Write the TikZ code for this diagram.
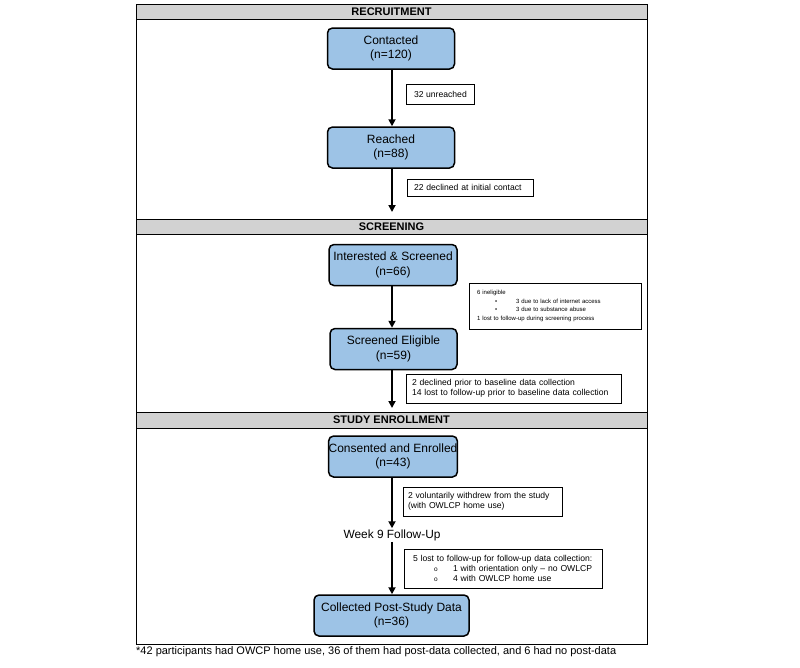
\documentclass[tikz,border=0pt]{standalone}
\usepackage{fontspec}
\setmainfont{Liberation Sans}
\usetikzlibrary{arrows.meta}
\definecolor{boxblue}{RGB}{157,195,230}
\definecolor{bargray}{RGB}{210,210,210}
\begin{document}
\begin{tikzpicture}[x=1pt,y=-1pt,
  stage/.style={draw=black, line width=1.5pt, rounded corners=5pt, fill=boxblue,
    minimum height=41pt, align=center, inner sep=0pt,
    font=\fontsize{12}{14.5}\selectfont},
  note/.style={draw=black, line width=0.7pt, fill=white, align=left, inner xsep=8pt, inner ysep=0pt,
    font=\fontsize{8.6}{10}\selectfont},
  bar/.style={draw=black, line width=0.9pt, fill=bargray},
  bartitle/.style={font=\fontsize{11}{13}\selectfont\bfseries},
  flow/.style={line width=2pt, -{Triangle[length=7pt,width=7pt]}},
  lbl/.style={font=\fontsize{11.9}{15}\selectfont, inner sep=1pt}
]
\useasboundingbox (0,0) rectangle (800,667);
\fill[white] (0,0) rectangle (800,667);
% frame and bars
\draw[line width=0.9pt] (136,4) rectangle (647,644);
\draw[bar] (136,4) rectangle (647,19);
\draw[bar] (136,219) rectangle (647,234);
\draw[bar] (136,412) rectangle (647,428);
\node[bartitle] (h1) at (391.5,11.5) {RECRUITMENT};
\node[bartitle] (h2) at (391.5,226.5) {SCREENING};
\node[bartitle] (h3) at (391.5,420) {STUDY ENROLLMENT};
% stages
\node[stage, minimum width=127pt] (contacted) at (391,48.5) {Contacted\\(n=120)};
\node[stage, minimum width=127pt] (reached) at (391,147.5) {Reached\\(n=88)};
\node[stage, minimum width=128pt] (interested) at (393,265) {Interested \& Screened\\(n=66)};
\node[stage, minimum width=127pt] (eligible) at (393.5,349) {Screened Eligible\\(n=59)};
\node[stage, minimum width=128pt] (consented) at (393,456.5) {Consented and Enrolled\\(n=43)};
\node[lbl] (week9) at (392,535) {Week 9 Follow-Up};
\node[stage, minimum width=155pt] (collected) at (391.5,615.5) {Collected Post-Study Data\\(n=36)};
\coordinate (endA) at (392,212);
\coordinate (endB) at (392,408);
% arrows
\draw[flow] (contacted.south -| 392,0) -- (reached.north -| 392,0);
\draw[flow] (reached.south -| 392,0) -- (endA);
\draw[flow] (interested.south -| 392,0) -- (eligible.north -| 392,0);
\draw[flow] (eligible.south -| 392,0) -- (endB);
\draw[flow] (consented.south -| 392,0) -- (week9.north -| 392,0);
\draw[flow] (week9.south -| 392,0) -- (collected.north -| 392,0);
% notes
\node[note, minimum width=65pt, minimum height=20pt] (n1) at (440.5,94) {32 unreached};
\node[note, minimum width=126pt, minimum height=17pt, text width=112pt, inner xsep=7pt] (n2) at (470,187.5) {22 declined at initial contact};
\node[note, minimum width=172pt, minimum height=46pt, text width=164pt, inner xsep=4pt,
  font=\fontsize{6}{8.8}\selectfont] (n3) at (555,306)
  {\hspace*{4pt}6 ineligible\\
   \hspace*{22pt}\makebox[21pt][l]{\textbullet}3 due to lack of internet access\\
   \hspace*{22pt}\makebox[21pt][l]{\textbullet}3 due to substance abuse\\
   \hspace*{4pt}1 lost to follow-up during screening process};
\node[note, minimum width=215pt, minimum height=29pt, text width=203pt, inner xsep=6pt,
  font=\fontsize{8.6}{10}\selectfont] (n4) at (513.5,388.5)
  {2 declined prior to baseline data collection\\14 lost to follow-up prior to baseline data collection};
\node[note, minimum width=159pt, minimum height=29pt, text width=149pt, inner xsep=5pt,
  font=\fontsize{8.6}{10}\selectfont] (n5) at (482.5,501.5)
  {2 voluntarily withdrew from the study\\(with OWLCP home use)};
\node[note, minimum width=198pt, minimum height=39pt, text width=186pt, inner xsep=6pt,
  font=\fontsize{8.6}{10}\selectfont] (n6) at (503,568.5)
  {\hspace*{3pt}5 lost to follow-up for follow-up data collection:\\
   \hspace*{24pt}\makebox[19pt][l]{\fontsize{6.5}{8}\selectfont o}1 with orientation only -- no OWLCP\\
   \hspace*{24pt}\makebox[19pt][l]{\fontsize{6.5}{8}\selectfont o}4 with OWLCP home use};
% footnote
\node[anchor=west, inner sep=0pt, font=\fontsize{11}{13}\selectfont] (foot) at (136,652)
  {*42 participants had OWCP home use, 36 of them had post-data collected, and 6 had no post-data};
\end{tikzpicture}
\end{document}
